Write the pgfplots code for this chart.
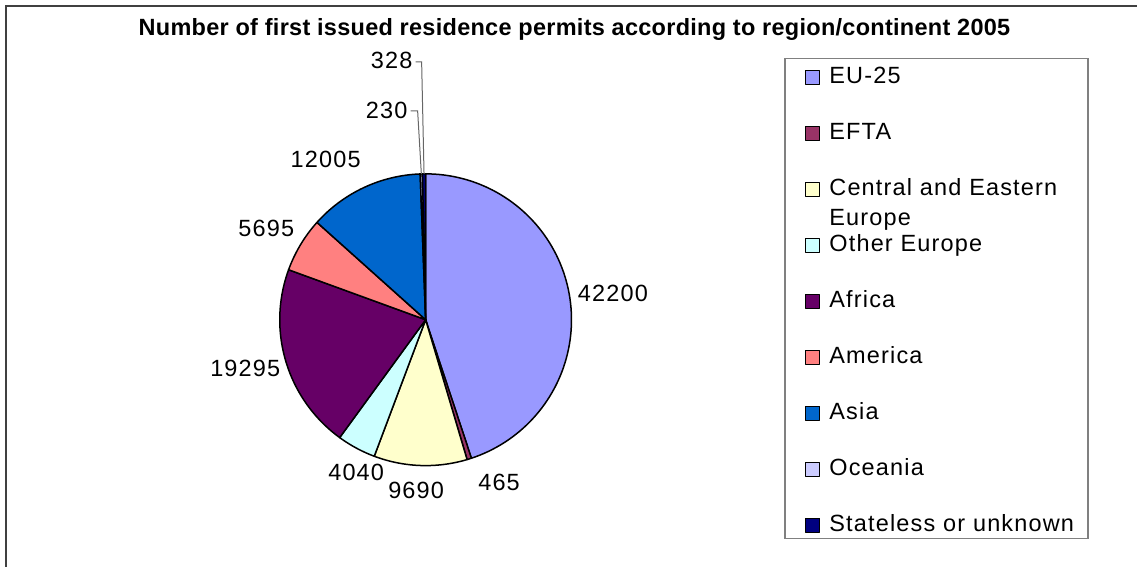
\documentclass[border=0pt]{standalone}
\usepackage{fontspec}
\setmainfont{Liberation Sans}[LetterSpace=5]
\newfontfamily\titlefont{Liberation Sans}[LetterSpace=1.2]
\usepackage{pgfplots}
\pgfplotsset{compat=1.18}
\definecolor{cEU}{HTML}{9999FF}
\definecolor{cEFTA}{HTML}{993366}
\definecolor{cCEE}{HTML}{FFFFCC}
\definecolor{cOE}{HTML}{CCFFFF}
\definecolor{cAF}{HTML}{660066}
\definecolor{cAM}{HTML}{FF8080}
\definecolor{cAS}{HTML}{0066CC}
\definecolor{cOC}{HTML}{CCCCFF}
\definecolor{cSU}{HTML}{000080}
\newcommand\lbl{\fontsize{23.5}{30}\selectfont}
% values of the series
\edef\total{\fpeval{42200+465+9690+4040+19295+5695+12005+230+328}}
\def\sliceStart{90}
\newcommand\slice[3]{%
  \edef\sliceEnd{\fpeval{round(\sliceStart-360*#1/\total,4)}}%
  \edef\temp{\noexpand\addplot[fill=#2, draw=black, line width=1.5pt, line join=round,
     domain=\sliceEnd:\sliceStart, samples=90, variable=\noexpand\t]
     ({426+146*cos(\noexpand\t)},{320-146*sin(\noexpand\t)}) -- (axis cs:426,320) -- cycle;}%
  \temp
  \addlegendentry{#3}%
  \global\let\sliceStart\sliceEnd
}
\begin{document}
\begin{tikzpicture}[font=\lbl]
\begin{axis}[scale only axis, width=1138pt, height=567pt,
  xmin=0, xmax=1138, ymin=0, ymax=567, y dir=reverse,
  hide axis, clip=false,
  legend cell align=left,
  legend image code/.code={\path (0pt,0pt); \draw[#1, draw=black, line width=1.2pt] (20pt,-1pt) rectangle (34pt,13pt);},
  legend style={at={(axis cs:785,58)}, anchor=north west, draw=black!50, line width=1.5pt,
    fill=white, inner xsep=0pt, inner ysep=2pt, column sep=9pt, row sep=28pt,
    nodes={inner sep=0pt, anchor=base west, text width=259pt, align=left,
      text height=23pt, text depth=5pt, font=\lbl}},
]
\path (axis cs:0,0) rectangle (axis cs:1138,567);
\slice{42200}{cEU}{EU-25}
\slice{465}{cEFTA}{EFTA}
\slice{9690}{cCEE}{Central and Eastern\\Europe}
\slice{4040}{cOE}{Other Europe}
\slice{19295}{cAF}{Africa}
\slice{5695}{cAM}{America}
\slice{12005}{cAS}{Asia}
\slice{230}{cOC}{Oceania}
\slice{328}{cSU}{Stateless or unknown}
% frame
\draw[line width=2pt, black!75] (axis cs:6.5,567) -- (axis cs:6.5,5.8) -- (axis cs:1138,5.8);
% title
\node[anchor=base, font=\titlefont\lbl\bfseries] at (axis cs:575,36) {Number of first issued residence permits according to region/continent 2005};
% data labels
\node[anchor=base] at (axis cs:613.5,302) {42200};
\node[anchor=base] at (axis cs:499.5,491) {465};
\node[anchor=base] at (axis cs:416.5,499) {9690};
\node[anchor=base] at (axis cs:356.5,481) {4040};
\node[anchor=base] at (axis cs:245.5,377) {19295};
\node[anchor=base] at (axis cs:266.5,237) {5695};
\node[anchor=base] at (axis cs:326,168) {12005};
\node[anchor=base] at (axis cs:387,119) {230};
\node[anchor=base] at (axis cs:392,69) {328};
% leader lines
\draw[black!60, line width=1pt] (axis cs:411,111) -- (axis cs:418,111) -- (axis cs:421.7,174);
\draw[black!60, line width=1pt] (axis cs:416,62) -- (axis cs:422,62) -- (axis cs:424.4,174);
\end{axis}
\end{tikzpicture}
\end{document}
